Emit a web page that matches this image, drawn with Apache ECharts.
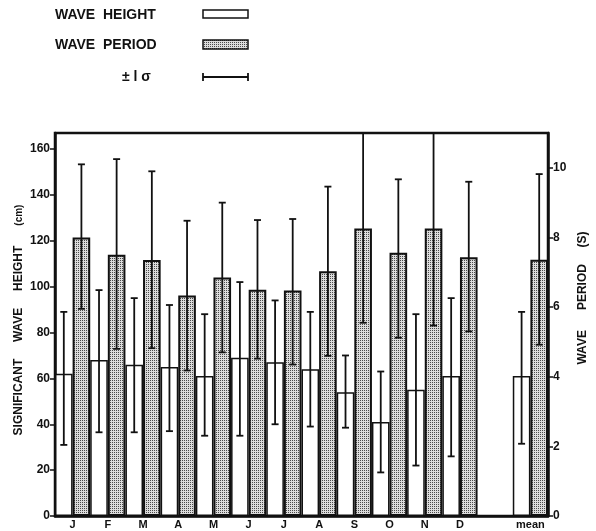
<!DOCTYPE html>
<html>
<head>
<meta charset="utf-8">
<script src="https://cdn.jsdelivr.net/npm/echarts@6/dist/echarts.min.js"></script>
<style>
  html, body { margin: 0; padding: 0; background: #fff; }
  #chart { width: 596px; height: 531px; }
</style>
</head>
<body>
<div id="chart"></div>
<script>
// Monthly significant wave height and wave period, with ±1σ ranges
const months = ['J', 'F', 'M', 'A', 'M', 'J', 'J', 'A', 'S', 'O', 'N', 'D', '', 'mean'];

// Significant wave height (cm)
const heightMean = [62, 68, 66, 65, 61, 69, 67, 64, 54, 41, 55, 61, null, 61];
const heightLow  = [31, 36.5, 36.5, 37, 35, 35, 40, 39, 38.5, 19, 22, 26, null, 31.5];
const heightHigh = [89, 98.5, 95, 92, 88, 102, 94, 89, 70, 63, 88, 95, null, 89];

// Wave period (s)
const periodMean = [8.0, 7.5, 7.35, 6.33, 6.85, 6.5, 6.48, 7.03, 8.26, 7.56, 8.26, 7.43, null, 7.36];
const periodLow  = [5.95, 4.8, 4.82, 4.18, 4.7, 4.52, 4.35, 4.6, 5.55, 5.12, 5.47, 5.3, null, 4.92];
const periodHigh = [10.1, 10.25, 9.9, 8.48, 9.0, 8.5, 8.53, 9.46, 11.0, 9.67, 11.0, 9.6, null, 9.82];

// Tick values for both vertical axes
const heightTicks = [0, 20, 40, 60, 80, 100, 120, 140, 160];
const periodTicks = [0, 2, 4, 6, 8, 10];

const FONT = 'Liberation Sans';

// Stipple fill for the wave period bars
function stipple() {
  const c = document.createElement('canvas');
  c.width = 2; c.height = 2;
  const ctx = c.getContext('2d');
  ctx.fillStyle = '#dcdcdc';
  ctx.fillRect(0, 0, 2, 2);
  ctx.fillStyle = '#4a4a4a';
  ctx.fillRect(0, 0, 1, 1);
  return c;
}
const stippleImg = stipple();

function errorData(low, high) {
  const out = [];
  for (let i = 0; i < low.length; i++) {
    if (low[i] != null) out.push([i, low[i], high[i]]);
  }
  return out;
}

// Whisker with caps; side = -1 for left bar of the pair, +1 for right bar
function whisker(side) {
  return function (params, api) {
    const idx = api.value(0);
    const lo = api.coord([idx, api.value(1)]);
    const hi = api.coord([idx, api.value(2)]);
    const bandW = api.size([1, 0])[0];
    const x = lo[0] + side * bandW / 4;
    const cap = 3.5;
    const style = { stroke: '#111', lineWidth: 1.8 };
    return {
      type: 'group',
      children: [
        { type: 'line', shape: { x1: x, y1: lo[1], x2: x, y2: hi[1] }, style },
        { type: 'line', shape: { x1: x - cap, y1: lo[1], x2: x + cap, y2: lo[1] }, style },
        { type: 'line', shape: { x1: x - cap, y1: hi[1], x2: x + cap, y2: hi[1] }, style }
      ]
    };
  };
}

const chart = echarts.init(document.getElementById('chart'), null, { renderer: 'canvas' });

const option = {
  backgroundColor: '#fff',
  animation: false,
  grid: {
    left: 55, right: 48, top: 133, bottom: 15,
    show: true, borderColor: '#111', borderWidth: 2.5, backgroundColor: 'transparent'
  },
  xAxis: {
    type: 'category',
    data: months,
    axisLine: { lineStyle: { color: '#111', width: 2.5 } },
    axisTick: { show: false },
    axisLabel: {
      interval: 0,
      color: '#111', fontFamily: FONT, fontWeight: 'bold', fontSize: 11, margin: 3
    },
    splitLine: { show: false }
  },
  yAxis: [
    {
      type: 'value', min: 0, max: 167, interval: 20,
      axisLine: { show: true, lineStyle: { color: '#111', width: 2.5 } },
      axisTick: { show: true, length: 5, lineStyle: { color: '#111', width: 1.5 },
        customValues: heightTicks },
      axisLabel: { color: '#111', fontFamily: FONT, fontWeight: 'bold', fontSize: 12, margin: 5,
        customValues: heightTicks },
      splitLine: { show: false }
    },
    {
      type: 'value', min: 0, max: 11, interval: 2,
      axisLine: { show: true, lineStyle: { color: '#111', width: 2.5 } },
      axisTick: { show: true, length: 5, lineStyle: { color: '#111', width: 1.5 },
        customValues: periodTicks },
      axisLabel: { color: '#111', fontFamily: FONT, fontWeight: 'bold', fontSize: 12, margin: 5,
        customValues: periodTicks },
      splitLine: { show: false }
    }
  ],
  series: [
    {
      name: 'WAVE HEIGHT', type: 'bar', yAxisIndex: 0,
      data: heightMean,
      barGap: '0%', barCategoryGap: '0%',
      itemStyle: { color: '#fff', borderColor: '#111', borderWidth: 1.5 },
      z: 2
    },
    {
      name: 'WAVE PERIOD', type: 'bar', yAxisIndex: 1,
      data: periodMean,
      barGap: '0%', barCategoryGap: '0%',
      itemStyle: { color: { image: stippleImg, repeat: 'repeat' }, borderColor: '#111', borderWidth: 2 },
      z: 2
    },
    {
      type: 'custom', yAxisIndex: 0,
      data: errorData(heightLow, heightHigh),
      encode: { x: 0, y: [1, 2] },
      renderItem: whisker(-1),
      clip: false, z: 5
    },
    {
      type: 'custom', yAxisIndex: 1,
      data: errorData(periodLow, periodHigh),
      encode: { x: 0, y: [1, 2] },
      renderItem: whisker(1),
      clip: false, z: 5
    }
  ],
  graphic: [
    // axis titles
    { type: 'text', x: 19, y: 320, rotation: Math.PI / 2,
      style: {
        text: 'SIGNIFICANT     WAVE     HEIGHT      {s|(cm)}',
        fill: '#111', font: 'bold 12px "Liberation Sans"',
        align: 'center', verticalAlign: 'middle',
        rich: { s: { fontSize: 10, fontWeight: 'bold', fontFamily: FONT, fill: '#111' } }
      } },
    { type: 'text', x: 583, y: 298, rotation: Math.PI / 2,
      style: {
        text: 'WAVE      PERIOD     (S)',
        fill: '#111', font: 'bold 12px "Liberation Sans"',
        align: 'center', verticalAlign: 'middle'
      } },
    // key
    { type: 'text', left: 55, top: 8,
      style: { text: 'WAVE  HEIGHT', fill: '#111', font: 'bold 14px "Liberation Sans"' } },
    { type: 'text', left: 55, top: 38,
      style: { text: 'WAVE  PERIOD', fill: '#111', font: 'bold 14px "Liberation Sans"' } },
    { type: 'text', left: 122, top: 70,
      style: { text: '± l σ', fill: '#111', font: 'bold 14px "Liberation Sans"' } },
    { type: 'rect', shape: { x: 203, y: 10, width: 45, height: 8 },
      style: { fill: '#fff', stroke: '#111', lineWidth: 1.5 } },
    { type: 'rect', shape: { x: 203, y: 40, width: 45, height: 9 },
      style: { fill: { image: stippleImg, repeat: 'repeat' }, stroke: '#111', lineWidth: 1.5 } },
    { type: 'line', shape: { x1: 203, y1: 77, x2: 248, y2: 77 }, style: { stroke: '#111', lineWidth: 1.8 } },
    { type: 'line', shape: { x1: 203, y1: 73, x2: 203, y2: 81 }, style: { stroke: '#111', lineWidth: 1.8 } },
    { type: 'line', shape: { x1: 248, y1: 73, x2: 248, y2: 81 }, style: { stroke: '#111', lineWidth: 1.8 } }
  ]
};

chart.setOption(option);
</script>
</body>
</html>
